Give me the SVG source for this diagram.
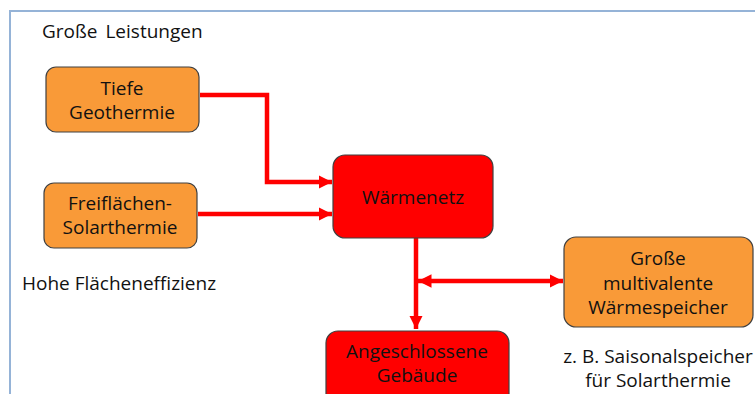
<svg xmlns="http://www.w3.org/2000/svg" width="755" height="394" viewBox="0 0 755 394">
<style>
.t{font-family:"Open Sans","Noto Sans","DejaVu Sans",sans-serif;font-size:19px;fill:#111;text-anchor:middle}
.l{font-family:"Open Sans","Noto Sans","DejaVu Sans",sans-serif;font-size:19px;fill:#111}
.o{fill:#F99A38;stroke:#404040;stroke-width:1.2}
.r{fill:#FF0000;stroke:#404040;stroke-width:1.2}
.c{fill:none;stroke:#FF0000;stroke-width:4.5}
</style>
<defs>
<marker id="ah" viewBox="0 0 10 10" refX="10" refY="5" markerWidth="3" markerHeight="3" markerUnits="strokeWidth" orient="auto-start-reverse">
<path d="M0,0 L10,5 L0,10 z" fill="#FF0000"/>
</marker>
</defs>
<rect x="0" y="0" width="755" height="394" fill="#fff"/>
<path d="M10,394 V11 H755" fill="none" stroke="#95B3D7" stroke-width="2"/>
<text class="l" x="42" y="38" word-spacing="3">Große Leistungen</text>
<text class="l" x="22" y="290">Hohe Flächeneffizienz</text>
<text class="t" x="658" y="363">z. B. Saisonalspeicher</text>
<text class="t" x="658" y="387">für Solarthermie</text>
<g id="connectors">
<path class="c" d="M200,95 H267 V182 H332" marker-end="url(#ah)"/>
<path class="c" d="M198,214 H332" marker-end="url(#ah)"/>
<path class="c" d="M416,238 V329" marker-end="url(#ah)"/>
<path class="c" d="M418,281 H563" marker-start="url(#ah)" marker-end="url(#ah)"/>
</g>
<g id="tiefe">
<rect class="o" x="46" y="67" width="153" height="65" rx="10"/>
<text class="t" x="122" y="95">Tiefe</text>
<text class="t" x="122" y="119">Geothermie</text>
</g>
<g id="freiflaechen">
<rect class="o" x="44" y="183" width="153" height="65" rx="10"/>
<text class="t" x="120" y="210">Freiflächen-</text>
<text class="t" x="120" y="234">Solarthermie</text>
</g>
<g id="waermenetz">
<rect class="r" x="333" y="155" width="160" height="83" rx="12"/>
<text class="t" x="413" y="204">Wärmenetz</text>
</g>
<g id="speicher">
<rect class="o" x="564" y="237" width="189" height="90" rx="12"/>
<text class="t" x="658" y="265">Große</text>
<text class="t" x="658" y="290">multivalente</text>
<text class="t" x="658" y="314">Wärmespeicher</text>
</g>
<g id="gebaeude">
<rect class="r" x="326" y="331" width="183" height="80" rx="12"/>
<text class="t" x="417" y="358">Angeschlossene</text>
<text class="t" x="417" y="382">Gebäude</text>
</g>
</svg>
